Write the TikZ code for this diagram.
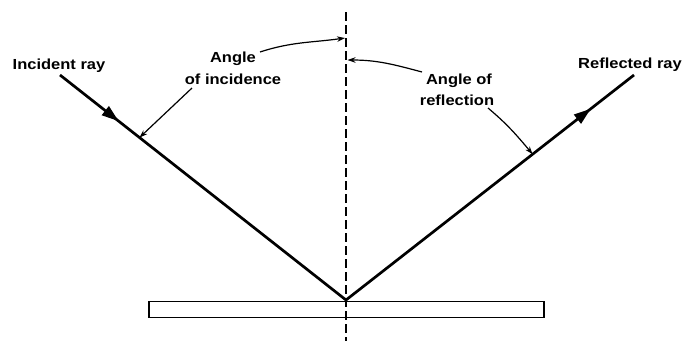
\documentclass[tikz,border=0pt]{standalone}
\usepackage{fontspec}
\newfontfamily\lblfont{Liberation Sans}[FakeStretch=1.13]
\usetikzlibrary{arrows.meta,calc,decorations.markings}
\begin{document}
\begin{tikzpicture}[x=1pt,y=-1pt,
  lbl/.style={font=\lblfont\bfseries\fontsize{14.6}{21}\selectfont, inner sep=0pt, anchor=base},
  ray/.style={line width=2.7pt},
  leader/.style={line width=1.2pt, -{Stealth[length=8pt,width=5.5pt]}},
  normalline/.style={line width=1.6pt, dash pattern=on 9pt off 4pt},
  mirrorbox/.style={draw, line width=1.3pt}]
\useasboundingbox (0,0) rectangle (685,341);
% key points
\coordinate (is) at (60,75);
\coordinate (p) at (346,300);
\coordinate (re) at (634,75);
\coordinate (top) at (346,12);
\coordinate (bot) at (346,341);
% mirror
\node[mirrorbox, minimum width=395pt, minimum height=16pt, inner sep=0pt, anchor=north] (mirror) at (346.5,301) {};
% normal
\draw[normalline] (top) -- (bot);
% rays
\draw[ray, decoration={markings, mark=at position 0.205 with {\arrow{Triangle[length=17pt,width=11pt]}}}, postaction={decorate}] (is) -- (p);
\draw[ray, decoration={markings, mark=at position 0.85 with {\arrow{Triangle[length=17pt,width=11pt]}}}, postaction={decorate}] (p) -- (re);
% labels
\node[lbl] (inc) at (59,69) {Incident ray};
\node[lbl] (refl) at (630,68) {Reflected ray};
\node[lbl] (a1) at (233,62) {Angle};
\node[lbl] (a2) at (233,84) {of incidence};
\node[lbl] (b1) at (459,84) {Angle of};
\node[lbl] (b2) at (457,105) {reflection};
% leader points
\coordinate (a1s) at (260,52);
\coordinate (a1e) at (345,38);
\coordinate (a2s) at (192,88);
\coordinate (a2e) at ($(is)!0.278!(p)$);
\coordinate (b1s) at (422,72);
\coordinate (b1e) at (347.5,60);
\coordinate (b2s) at (488,108);
\coordinate (b2e) at ($(p)!0.648!(re)$);
\draw[leader] (a1s) to[out=18,in=188] (a1e);
\draw[leader] (a2s) -- (a2e);
\draw[leader] (b1s) to[out=165,in=0] (b1e);
\draw[leader] (b2s) to[out=-40,in=130] (b2e);
\end{tikzpicture}
\end{document}
